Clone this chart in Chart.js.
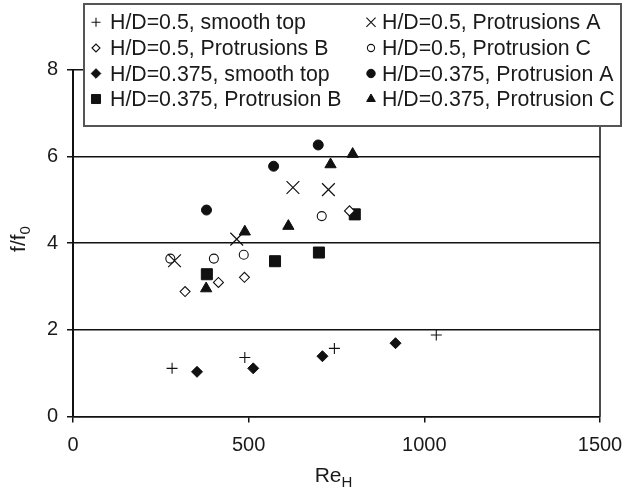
<!DOCTYPE html>
<html><head><meta charset="utf-8">
<script src="https://cdn.jsdelivr.net/npm/chart.js@4"></script>
<style>html,body{margin:0;padding:0;background:#fff}#wrap{width:622px;height:490px;position:relative}</style>
</head><body><div id="wrap"><canvas id="c" width="622" height="490"></canvas></div>
<script>
// ---- data ----
const seriesLabels = [
  'H/D=0.5, smooth top', 'H/D=0.5, Protrusions A',
  'H/D=0.5, Protrusions B', 'H/D=0.5, Protrusion C',
  'H/D=0.375, smooth top', 'H/D=0.375, Protrusion A',
  'H/D=0.375, Protrusion B', 'H/D=0.375, Protrusion C'
];
const s05SmoothRe = [282, 489, 744, 1034];
const s05SmoothF  = [1.11, 1.36, 1.57, 1.88];
const s05ARe = [289, 466, 626, 727];
const s05AF  = [3.59, 4.09, 5.28, 5.23];
const s05BRe = [319, 414, 488, 787];
const s05BF  = [2.88, 3.09, 3.21, 4.74];
const s05CRe = [277, 401, 486, 708];
const s05CF  = [3.64, 3.64, 3.73, 4.62];
const s375SmoothRe = [353, 513, 710, 918];
const s375SmoothF  = [1.03, 1.11, 1.39, 1.69];
const s375ARe = [380, 571, 698];
const s375AF  = [4.76, 5.77, 6.26];
const s375BRe = [381, 575, 700, 802];
const s375BF  = [3.28, 3.58, 3.78, 4.66];
const s375CRe = [379, 489, 613, 733, 796];
const s375CF  = [2.95, 4.26, 4.39, 5.81, 6.05];
const xTicks = [0, 500, 1000, 1500];
const yTicks = [0, 2, 4, 6, 8];

const INK = '#111';
const FONT = 'Liberation Sans, Arial, sans-serif';
function pts(xs, ys) { return xs.map((x, i) => ({x: x, y: ys[i]})); }

// marker styles per series (legend order)
const styles = [
  {pointStyle: 'cross',    radius: 5.5, fill: false, bw: 1.1},
  {pointStyle: 'crossRot', radius: 9,   fill: false, bw: 1.2},
  {pointStyle: 'rectRot',  radius: 5,   fill: false, bw: 1.1},
  {pointStyle: 'circle',   radius: 4.5, fill: false, bw: 1.1},
  {pointStyle: 'rectRot',  radius: 5.5, fill: true,  bw: 1},
  {pointStyle: 'circle',   radius: 5,   fill: true,  bw: 1},
  {pointStyle: 'rect',     radius: 7.8, fill: true,  bw: 1},
  {pointStyle: 'triangle', radius: 6.5, fill: true,  bw: 1}
];
const dataSets = [
  pts(s05SmoothRe, s05SmoothF), pts(s05ARe, s05AF), pts(s05BRe, s05BF), pts(s05CRe, s05CF),
  pts(s375SmoothRe, s375SmoothF), pts(s375ARe, s375AF), pts(s375BRe, s375BF), pts(s375CRe, s375CF)
];

const datasets = dataSets.map((d, i) => ({
  label: seriesLabels[i],
  data: d,
  showLine: false,
  pointStyle: styles[i].pointStyle,
  pointRadius: styles[i].radius,
  pointHoverRadius: styles[i].radius,
  pointBorderWidth: styles[i].bw,
  borderColor: INK,
  backgroundColor: styles[i].fill ? INK : '#fff'
}));

// legend drawn over the plot area, plus subscripted axis titles and right border
const overlay = {
  id: 'overlay',
  afterDraw(chart) {
    const ctx = chart.ctx, ca = chart.chartArea;
    ctx.save();
    // right border
    ctx.strokeStyle = INK; ctx.lineWidth = 1.5;
    ctx.beginPath(); ctx.moveTo(ca.right, ca.top); ctx.lineTo(ca.right, ca.bottom); ctx.stroke();

    // legend box
    const L = 84, T = 4, R = 621, B = 126;
    ctx.fillStyle = '#fff';
    ctx.fillRect(L, T, R - L, B - T);
    ctx.strokeStyle = '#555'; ctx.lineWidth = 2;
    ctx.strokeRect(L, T, R - L, B - T);
    const rows = [29.3, 55, 80.5, 106];
    const colText = [110, 382], colMark = [96, 371];
    const lstyles = [
      {s: 'cross', r: 4.5}, {s: 'crossRot', r: 6.5}, {s: 'rectRot', r: 4}, {s: 'circle', r: 3.6},
      {s: 'rectRot', r: 4.8}, {s: 'circle', r: 4.2}, {s: 'rect', r: 6.4}, {s: 'triangle', r: 5}
    ];
    ctx.font = '21.3px ' + FONT;
    ctx.textBaseline = 'alphabetic'; ctx.textAlign = 'left';
    for (let i = 0; i < seriesLabels.length; i++) {
      const col = i % 2, row = Math.floor(i / 2);
      const y = rows[row];
      ctx.strokeStyle = INK;
      ctx.lineWidth = styles[i].fill ? 1 : 1.1;
      const st = lstyles[i];
      ctx.fillStyle = styles[i].fill ? INK : '#fff';
      Chart.helpers.drawPoint(ctx, {pointStyle: st.s, radius: st.r, rotation: 0, borderWidth: ctx.lineWidth}, colMark[col], y - 7);
      ctx.fillStyle = '#1a1a1a';
      ctx.fillText(seriesLabels[i], colText[col], y);
    }

    // x title: Re_H
    ctx.fillStyle = '#1a1a1a';
    const cx = (ca.left + ca.right) / 2 - 3;
    ctx.font = '21px ' + FONT;
    const wRe = ctx.measureText('Re').width;
    ctx.font = '15px ' + FONT;
    const wH = ctx.measureText('H').width;
    const x0 = cx - (wRe + wH) / 2;
    ctx.font = '21px ' + FONT;
    ctx.fillText('Re', x0, 481.5);
    ctx.font = '15px ' + FONT;
    ctx.fillText('H', x0 + wRe, 486.5);

    // y title: f/f_0 rotated
    ctx.translate(24.5, (ca.top + ca.bottom) / 2 - 4);
    ctx.rotate(-Math.PI / 2);
    ctx.font = '21px ' + FONT;
    const wf = ctx.measureText('f/f').width;
    ctx.font = '15px ' + FONT;
    const w0 = ctx.measureText('0').width;
    const y0 = -(wf + w0) / 2;
    ctx.font = '21px ' + FONT;
    ctx.fillText('f/f', y0, 0);
    ctx.font = '15px ' + FONT;
    ctx.fillText('0', y0 + wf, 5);
    ctx.restore();
  }
};

new Chart(document.getElementById('c'), {
  type: 'scatter',
  data: {datasets: datasets},
  options: {
    responsive: false,
    animation: false,
    devicePixelRatio: 1,
    layout: {padding: {top: 69.5, right: 22, bottom: 0, left: 0}},
    plugins: {legend: {display: false}, tooltip: {enabled: false}},
    scales: {
      x: {
        type: 'linear', min: 0, max: 1500,
        afterBuildTicks: s => { s.ticks = xTicks.map(v => ({value: v})); },
        afterFit: s => { s.height = 490 - 416.5; s.paddingLeft = 0; s.paddingRight = 0; },
        ticks: {color: '#1a1a1a', font: {family: FONT, size: 20}, padding: 11, maxRotation: 0,
                callback: v => String(v)},
        grid: {drawOnChartArea: false, drawTicks: true, tickLength: 6, color: INK, lineWidth: 1.5},
        border: {display: true, color: INK, width: 1.5},
        title: {display: false}
      },
      y: {
        type: 'linear', min: 0, max: 8,
        afterBuildTicks: s => { s.ticks = yTicks.map(v => ({value: v})); },
        afterFit: s => { s.width = 73; s.paddingTop = 0; s.paddingBottom = 0; },
        ticks: {color: '#1a1a1a', font: {family: FONT, size: 20}, padding: 9,
                callback: v => String(v)},
        grid: {drawOnChartArea: true, drawTicks: true, tickLength: 6, color: INK, lineWidth: 1.5},
        border: {display: true, color: INK, width: 2},
        title: {display: false}
      }
    }
  },
  plugins: [overlay]
});
</script></body></html>
